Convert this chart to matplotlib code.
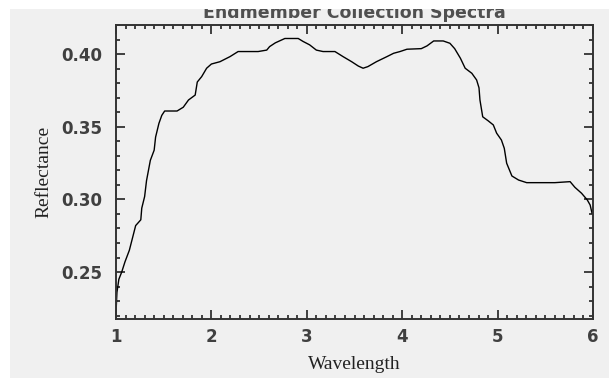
# Endmember Collection Spectra - single reflectance curve

import numpy as np
import matplotlib.pyplot as plt
from matplotlib.patches import Rectangle
from matplotlib.ticker import MultipleLocator

# wavelength / reflectance
wavelength = [1.00, 1.01, 1.03, 1.06, 1.094, 1.14, 1.175, 1.206, 1.26, 1.27,
              1.30, 1.32, 1.36, 1.40, 1.415, 1.45, 1.48, 1.51, 1.64, 1.705,
              1.76, 1.83, 1.852, 1.898, 1.95, 2.00, 2.09, 2.195, 2.28, 2.49,
              2.58, 2.61, 2.67, 2.77, 2.84, 2.91, 2.96, 3.03, 3.10, 3.17,
              3.295, 3.38, 3.47, 3.54, 3.59, 3.64, 3.73, 3.84, 3.91, 3.977,
              4.05, 4.20, 4.26, 4.33, 4.43, 4.50, 4.55, 4.61, 4.66, 4.73,
              4.78, 4.805, 4.815, 4.844, 4.90, 4.955, 4.99, 5.04, 5.07, 5.095,
              5.15, 5.22, 5.305, 5.60, 5.76, 5.81, 5.88, 5.94, 5.97, 5.99, 6.00]
reflectance = [0.222, 0.236, 0.245, 0.250, 0.257, 0.265, 0.274, 0.282, 0.286, 0.294,
               0.302, 0.313, 0.327, 0.334, 0.343, 0.3525, 0.358, 0.361, 0.361, 0.3636,
               0.3686, 0.372, 0.381, 0.3847, 0.3905, 0.3934, 0.395, 0.3985, 0.402, 0.402,
               0.403, 0.4054, 0.408, 0.411, 0.411, 0.411, 0.409, 0.4066, 0.403, 0.402,
               0.402, 0.3985, 0.395, 0.392, 0.3905, 0.3916, 0.395, 0.3985, 0.4008, 0.402,
               0.4036, 0.404, 0.4059, 0.4093, 0.4093, 0.4077, 0.404, 0.3974, 0.3905, 0.387,
               0.3824, 0.377, 0.3686, 0.357, 0.3543, 0.3514, 0.3457, 0.341, 0.3353, 0.325,
               0.3162, 0.3134, 0.3116, 0.3116, 0.3123, 0.3084, 0.3043, 0.2997, 0.2962, 0.2905, 0.2905]

W, H = 609, 378
fig = plt.figure(figsize=(W/100, H/100), dpi=100, facecolor='white')
# grey panel (white strip on top and left)
fig.patches.append(Rectangle((10/W, 0), 1, 1 - 8/H, transform=fig.transFigure,
                             facecolor='#f0f0f0', edgecolor='none', zorder=-10))

ax = fig.add_axes([116/W, 1 - 319/H, (593 - 116)/W, (319 - 25)/H])
ax.set_facecolor('#f0f0f0')
ax.plot(wavelength, reflectance, c='k', lw=1.0)

ax.set_xlim(1, 6)
ax.set_ylim(0.2176, 0.4203)
ax.xaxis.set_major_locator(MultipleLocator(1))
ax.xaxis.set_minor_locator(MultipleLocator(0.1))
ax.yaxis.set_major_locator(MultipleLocator(0.05))
ax.yaxis.set_minor_locator(MultipleLocator(0.01))
ax.yaxis.set_major_formatter(plt.FormatStrFormatter('%.2f'))

ax.tick_params(which='both', direction='in', top=True, right=True, color='#222222', width=1.2)
ax.tick_params(which='major', length=6.5)
ax.tick_params(which='minor', length=3.2)
ax.tick_params(axis='x', pad=6.5)
ax.tick_params(axis='y', pad=10)
for lab in ax.get_xticklabels() + ax.get_yticklabels():
    lab.set_fontweight('bold')
    lab.set_fontsize(12)
    lab.set_color('#404040')
for s in ax.spines.values():
    s.set_color('#333333')
    s.set_linewidth(1.4)

ax.set_xlabel('Wavelength', family='Liberation Serif', fontsize=14, color='#222222', labelpad=7)
ax.set_ylabel('Reflectance', family='Liberation Serif', fontsize=14, color='#222222', labelpad=6)

fig.text(354/W, 1 - 18/H, 'Endmember Collection Spectra', ha='center', va='baseline',
         fontsize=12.5, fontweight='bold', color='#505050', zorder=1)
# top strip hides the upper part of the title
fig.patches.append(Rectangle((0, 1 - 9/H), 1, 9/H, transform=fig.transFigure,
                             facecolor='white', edgecolor='none', zorder=5))

fig.savefig('out.png', dpi=100, facecolor='white')
